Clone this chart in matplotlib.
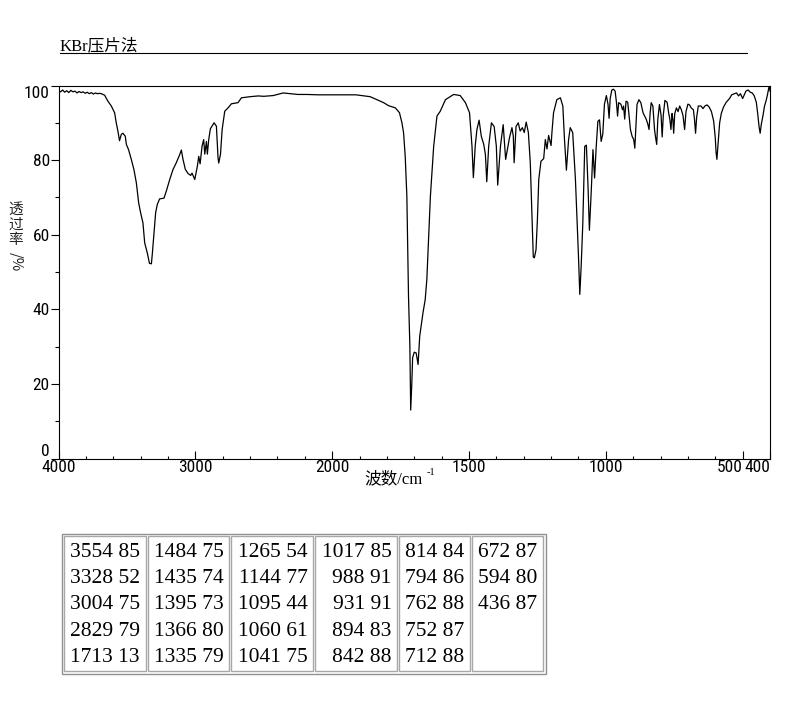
import numpy as np
import matplotlib.pyplot as plt
from matplotlib import font_manager
from matplotlib.patches import Rectangle
from matplotlib.lines import Line2D

# spectrum (wavenumber cm-1, transmittance %)
wavenumber = [
    4000, 3985, 3970, 3955, 3940, 3925, 3910, 3895, 3880, 3865, 3850, 3835, 3820, 3805,
    3790, 3775, 3760, 3745, 3730, 3715, 3700, 3687, 3663, 3639, 3614, 3590, 3578, 3566,
    3554, 3541, 3529, 3512, 3504, 3488, 3468, 3449, 3431, 3414, 3400, 3383, 3370, 3351,
    3335, 3321, 3314, 3302, 3290, 3278, 3261, 3229, 3212, 3187, 3163, 3139, 3114, 3102,
    3090, 3073, 3053, 3034, 3024, 3004, 2985, 2975, 2965, 2951, 2939, 2931, 2919, 2912,
    2902, 2890, 2863, 2846, 2834, 2829, 2816, 2804, 2785, 2761, 2736, 2688, 2663, 2600,
    2540, 2500, 2431, 2358, 2300, 2250, 2187, 2100, 2000, 1913, 1861, 1836, 1812, 1794,
    1769, 1754, 1745, 1739, 1733, 1727, 1721, 1716, 1713, 1709, 1706, 1700, 1693, 1686,
    1680, 1668, 1660, 1654, 1641, 1629, 1617, 1605, 1586, 1556, 1532, 1513, 1498, 1489,
    1484, 1477, 1471, 1463, 1455, 1446, 1440, 1435, 1428, 1418, 1408, 1400, 1395, 1385,
    1375, 1366, 1352, 1343, 1338, 1335, 1328, 1320, 1313, 1305, 1298, 1291, 1283, 1276,
    1270, 1265, 1261, 1255, 1250, 1245, 1237, 1227, 1221, 1215, 1209, 1200, 1197, 1191,
    1179, 1166, 1157, 1151, 1144, 1136, 1130, 1121, 1111, 1100, 1095, 1090, 1084, 1077,
    1071, 1065, 1060, 1053, 1047, 1041, 1035, 1029, 1023, 1017, 1011, 1005, 998, 992,
    988, 984, 978, 972, 966, 961, 957, 953, 945, 939, 935, 931, 926, 920,
    916, 910, 904, 898, 894, 890, 886, 879, 872, 864, 852, 846, 842, 838,
    834, 828, 822, 818, 814, 810, 804, 798, 794, 790, 784, 776, 770, 766,
    762, 758, 755, 752, 748, 742, 736, 730, 724, 718, 712, 707, 700, 694,
    688, 680, 676, 672, 668, 662, 652, 645, 638, 630, 622, 614, 606, 600,
    597, 594, 590, 584, 578, 570, 560, 548, 540, 530, 522, 515, 508, 500,
    494, 488, 480, 472, 465, 458, 450, 445, 440, 436, 432, 426, 420, 414,
    409, 405, 402, 400]
transmittance = [
    98.6, 98.3, 98.8, 98.2, 98.6, 98.1, 98.7, 98.3, 98.5, 98.0, 98.4, 98.1, 98.3, 97.9,
    98.2, 97.8, 98.1, 97.7, 98.0, 97.8, 97.9, 97.8, 97.4, 95.8, 94.5, 92.7, 90.0, 87.8,
    85.2, 86.9, 87.2, 86.4, 84.2, 82.8, 80.2, 77.5, 73.9, 68.5, 65.9, 63.2, 57.8, 55.1,
    52.3, 52.2, 55.0, 60.5, 65.9, 68.1, 69.6, 69.8, 71.7, 74.8, 77.5, 79.3, 81.5, 82.7,
    80.2, 77.5, 76.4, 75.9, 76.5, 74.8, 78.4, 81.0, 79.0, 83.7, 85.5, 81.6, 85.0, 81.6,
    85.5, 88.4, 90.0, 89.1, 80.6, 79.2, 81.6, 88.2, 93.1, 94.0, 95.1, 95.4, 96.7, 97.0,
    97.2, 97.1, 97.3, 98.0, 97.8, 97.6, 97.6, 97.5, 97.5, 97.5, 97.0, 96.2, 95.4, 94.6,
    94.0, 92.7, 90.0, 87.3, 81.0, 70.3, 43.5, 30.1, 13.0, 20.0, 27.0, 28.5, 28.3, 25.2,
    32.8, 39.1, 42.6, 48.0, 70.3, 83.7, 91.8, 93.1, 96.2, 97.6, 97.3, 95.4, 92.7, 83.7,
    75.3, 84.0, 88.2, 90.7, 86.4, 84.2, 81.5, 74.2, 83.7, 90.0, 89.0, 83.7, 73.3, 83.7,
    89.5, 80.2, 86.0, 88.7, 86.4, 79.3, 89.0, 90.0, 87.8, 88.7, 87.4, 90.2, 87.4, 79.3,
    65.9, 54.0, 53.8, 56.0, 64.0, 74.8, 79.7, 80.4, 85.5, 83.0, 86.6, 83.9, 87.3, 92.7,
    96.2, 96.7, 94.5, 85.5, 77.3, 85.5, 88.7, 87.4, 74.8, 54.5, 44.0, 51.6, 63.2, 83.7,
    84.0, 73.0, 61.2, 72.0, 82.8, 75.2, 83.7, 90.4, 90.8, 85.0, 87.0, 95.0, 97.3, 95.0,
    91.2, 96.5, 98.8, 99.0, 98.5, 95.4, 91.8, 95.4, 95.0, 93.5, 94.5, 91.0, 95.8, 95.5,
    92.7, 88.2, 86.4, 85.5, 83.2, 89.0, 94.9, 96.2, 95.4, 92.7, 90.9, 89.5, 88.2, 92.7,
    95.4, 94.5, 88.2, 86.0, 84.2, 90.9, 94.9, 92.0, 86.2, 92.0, 96.0, 95.5, 92.5, 91.0,
    88.2, 92.5, 91.0, 87.2, 92.5, 94.0, 93.0, 94.5, 93.5, 92.0, 88.2, 93.0, 95.0, 94.8,
    94.0, 93.5, 91.0, 87.2, 91.5, 94.5, 94.5, 93.8, 94.5, 94.8, 94.2, 93.0, 90.5, 86.0,
    82.0, 80.2, 84.0, 90.0, 92.5, 94.2, 95.5, 96.5, 97.5, 97.8, 98.0, 97.2, 97.8, 96.5,
    97.5, 98.5, 98.8, 98.2, 98.0, 97.3, 95.5, 92.5, 89.0, 87.2, 89.5, 91.8, 94.5, 96.0,
    97.6, 99.2, 100.0, 98.5]

# peak table
peak_wn = [3554, 3328, 3004, 2829, 1713, 1484, 1435, 1395, 1366, 1335, 1265, 1144, 1095, 1060,
           1041, 1017, 988, 931, 894, 842, 814, 794, 762, 752, 712, 672, 594, 436]
peak_t = [85, 52, 75, 79, 13, 75, 74, 73, 80, 79, 54, 77, 44, 61,
          75, 85, 91, 91, 83, 88, 84, 86, 88, 87, 88, 87, 80, 87]

x_major = [4000, 3000, 2000, 1500, 1000, 500, 400]
x_minor = list(range(3800, 2000, -200)) + [v for v in range(1900, 500, -100) if v % 500]


# split scale: 2000-400 is drawn at twice the scale of 4000-2000
def fwd(x):
    x = np.asarray(x, dtype=float)
    return np.where(x >= 2000, x, 2 * x - 2000)


def inv(u):
    u = np.asarray(u, dtype=float)
    return np.where(u >= 2000, u, (u + 2000) / 2)


# narrow font for the numbers if one is there
have = {f.name for f in font_manager.fontManager.ttflist}
num_font, num_size = 'Liberation Sans', 10.5
for name in ['Liberation Sans Narrow', 'Roboto Condensed', 'Open Sans Condensed',
             'Noto Sans Condensed', 'DejaVu Sans Condensed']:
    if name in have:
        num_font, num_size = name, 12.5
        break

W, H = 794, 709
fig = plt.figure(figsize=(W / 100, H / 100), dpi=100)


def fpos(x, y):
    return x / W, 1 - y / H


ax = fig.add_axes([58.5 / W, 1 - 458.5 / H, (770 - 58.5) / W, (458.5 - 85.5) / H])
ax.set_xscale('function', functions=(fwd, inv))
ax.plot(wavenumber, transmittance, color='black', lw=0.9)
ax.set_xlim(4000, 400)
ax.set_ylim(0, 100)

ax.set_xticks(x_major)
ax.set_xticks(x_minor, minor=True)
ax.set_xticklabels([str(v) for v in x_major], family=num_font, fontsize=num_size)
ax.set_yticks(range(0, 101, 20))
ax.set_yticks(range(10, 100, 20), minor=True)
ax.set_yticklabels([str(v) for v in range(0, 101, 20)], family=num_font, fontsize=num_size)
ax.tick_params(axis='x', which='major', direction='in', length=5.8, width=0.8, pad=1)
ax.tick_params(axis='x', which='minor', direction='in', length=2.4, width=0.8)
ax.tick_params(axis='y', which='major', direction='out', length=5.8, width=0.8, pad=0.5)
ax.tick_params(axis='y', which='minor', direction='out', length=3, width=0.8)
for s in ax.spines.values():
    s.set_linewidth(0.8)
ylabs = ax.get_yticklabels()
ylabs[0].set_va('bottom')
ylabs[-1].set_va('top')
xlabs = ax.get_xticklabels()
xlabs[-2].set_ha('right')
xlabs[-1].set_ha('right')

cjk = ['Liberation Serif', 'Noto Sans CJK SC']
fig.text(*fpos(60, 50), 'KBr压片法', family=cjk, fontsize=12, va='baseline')
fig.add_artist(Line2D([60 / W, 747 / W], [1 - 52.5 / H] * 2, color='black', lw=0.8))

for k, ch in enumerate('透过率'):
    fig.text(*fpos(16, 210 + 15 * k), ch, family='Noto Sans CJK SC', fontsize=10.5,
             ha='center', va='center', color='#222222')
fig.text(*fpos(16, 262), '/%', family='Noto Sans CJK SC', fontsize=10.5,
         ha='center', va='center', rotation=-90, color='#222222')

fig.text(*fpos(364, 483), '波数/cm', family=cjk, fontsize=12, va='baseline')
fig.text(*fpos(427, 475), '-1', family='Liberation Serif', fontsize=7.5, va='baseline')

# peak table
boxes = [(63.5, 145.5), (147.5, 229), (231, 313), (315, 397), (399, 470), (472, 543)]
fig.add_artist(Rectangle(fpos(62, 673.5), (545.5 - 62) / W, (673.5 - 534) / H,
                         fill=False, ec='#909090', lw=1))
for c, (l, r) in enumerate(boxes):
    fig.add_artist(Rectangle(fpos(l, 671), (r - l) / W, (671 - 536) / H,
                             fill=False, ec='#a8a8a8', lw=1))
    for k in range(5):
        i = c * 5 + k
        if i >= len(peak_wn):
            break
        fig.text(*fpos(r - 5.5, 557 + 26.2 * k), f'{peak_wn[i]} {peak_t[i]}',
                 family='Liberation Serif', fontsize=15.5, ha='right', va='baseline')

fig.savefig('out.png', dpi=100)
